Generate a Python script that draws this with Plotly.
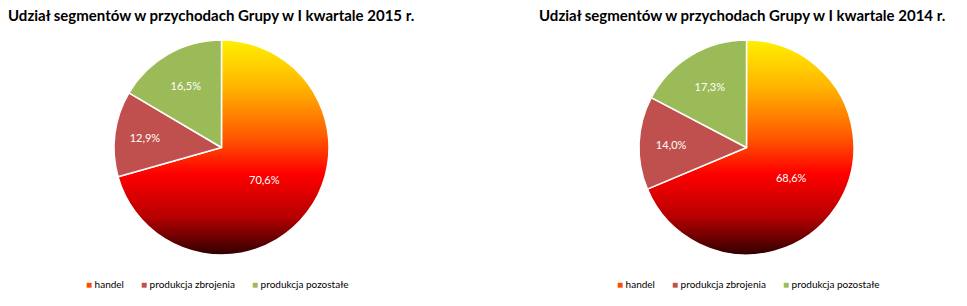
import base64
import plotly.graph_objects as go

W, H = 967, 306

categories = ["handel", "produkcja zbrojenia", "produkcja pozostałe"]
values_2015 = [70.6, 12.9, 16.5]
values_2014 = [68.6, 14.0, 17.3]
titles = ["Udział segmentów w przychodach Grupy w I kwartale 2015 r.",
          "Udział segmentów w przychodach Grupy w I kwartale 2014 r."]

colors = ["rgba(0,0,0,0)", "#C0504D", "#9BBB59"]
legend_colors = ["#FF4A00", "#C0504D", "#9BBB59"]

FONT = "Lato"

# pie geometry in pixels (left, top, size)
pies = [(114, 40, 215), (639, 40, 215)]
title_cx = [211, 742]
legend_x0 = [84, 615]

svg = (
    '<svg xmlns="http://www.w3.org/2000/svg" width="200" height="200" viewBox="0 0 200 200">'
    '<defs><linearGradient id="g" x1="0" y1="0" x2="0" y2="1">'
    '<stop offset="0" stop-color="#FFF000"/>'
    '<stop offset="0.22" stop-color="#FFB400"/>'
    '<stop offset="0.45" stop-color="#FF5A00"/>'
    '<stop offset="0.62" stop-color="#FF0000"/>'
    '<stop offset="0.82" stop-color="#B80000"/>'
    '<stop offset="1" stop-color="#300000"/>'
    '</linearGradient></defs>'
    '<circle cx="100" cy="100" r="100" fill="url(#g)"/></svg>'
)
svg_uri = "data:image/svg+xml;base64," + base64.b64encode(svg.encode()).decode()

fig = go.Figure()
images = []
annotations = []
for i, vals in enumerate([values_2015, values_2014]):
    x0, y0, s = pies[i]
    fig.add_trace(go.Pie(
        labels=categories, values=vals, sort=False, direction="clockwise",
        rotation=0, showlegend=False,
        marker=dict(colors=colors, line=dict(color="white", width=1.5)),
        texttemplate="%{value:.1f}%", textposition="inside",
        insidetextorientation="horizontal",
        textfont=dict(family=FONT, size=11, color="white"),
        hoverinfo="label+value",
        domain=dict(x=[x0 / W, (x0 + s) / W], y=[1 - (y0 + s) / H, 1 - y0 / H]),
    ))
    images.append(dict(
        source=svg_uri, xref="paper", yref="paper",
        x=x0 / W, y=1 - y0 / H, sizex=s / W, sizey=s / H,
        xanchor="left", yanchor="top", sizing="stretch", layer="below",
    ))
    annotations.append(dict(
        text="<b>" + titles[i] + "</b>", xref="paper", yref="paper",
        x=title_cx[i] / W, y=1 - 15 / H, xanchor="center", yanchor="middle",
        showarrow=False, font=dict(family=FONT, size=15, color="black"),
    ))
    # legend built from categories
    offsets = [0, 55, 166]
    for j, cat in enumerate(categories):
        annotations.append(dict(
            text='<span style="color:%s">■</span> %s' % (legend_colors[j], cat),
            xref="paper", yref="paper",
            x=(legend_x0[i] + offsets[j]) / W, y=1 - 284 / H,
            xanchor="left", yanchor="middle", showarrow=False,
            font=dict(family=FONT, size=10, color="black"),
        ))

fig.update_layout(
    width=W, height=H, margin=dict(l=0, r=0, t=0, b=0),
    paper_bgcolor="white", plot_bgcolor="rgba(0,0,0,0)",
    separators=",.", images=images, annotations=annotations,
)
fig.write_html("out.html")
